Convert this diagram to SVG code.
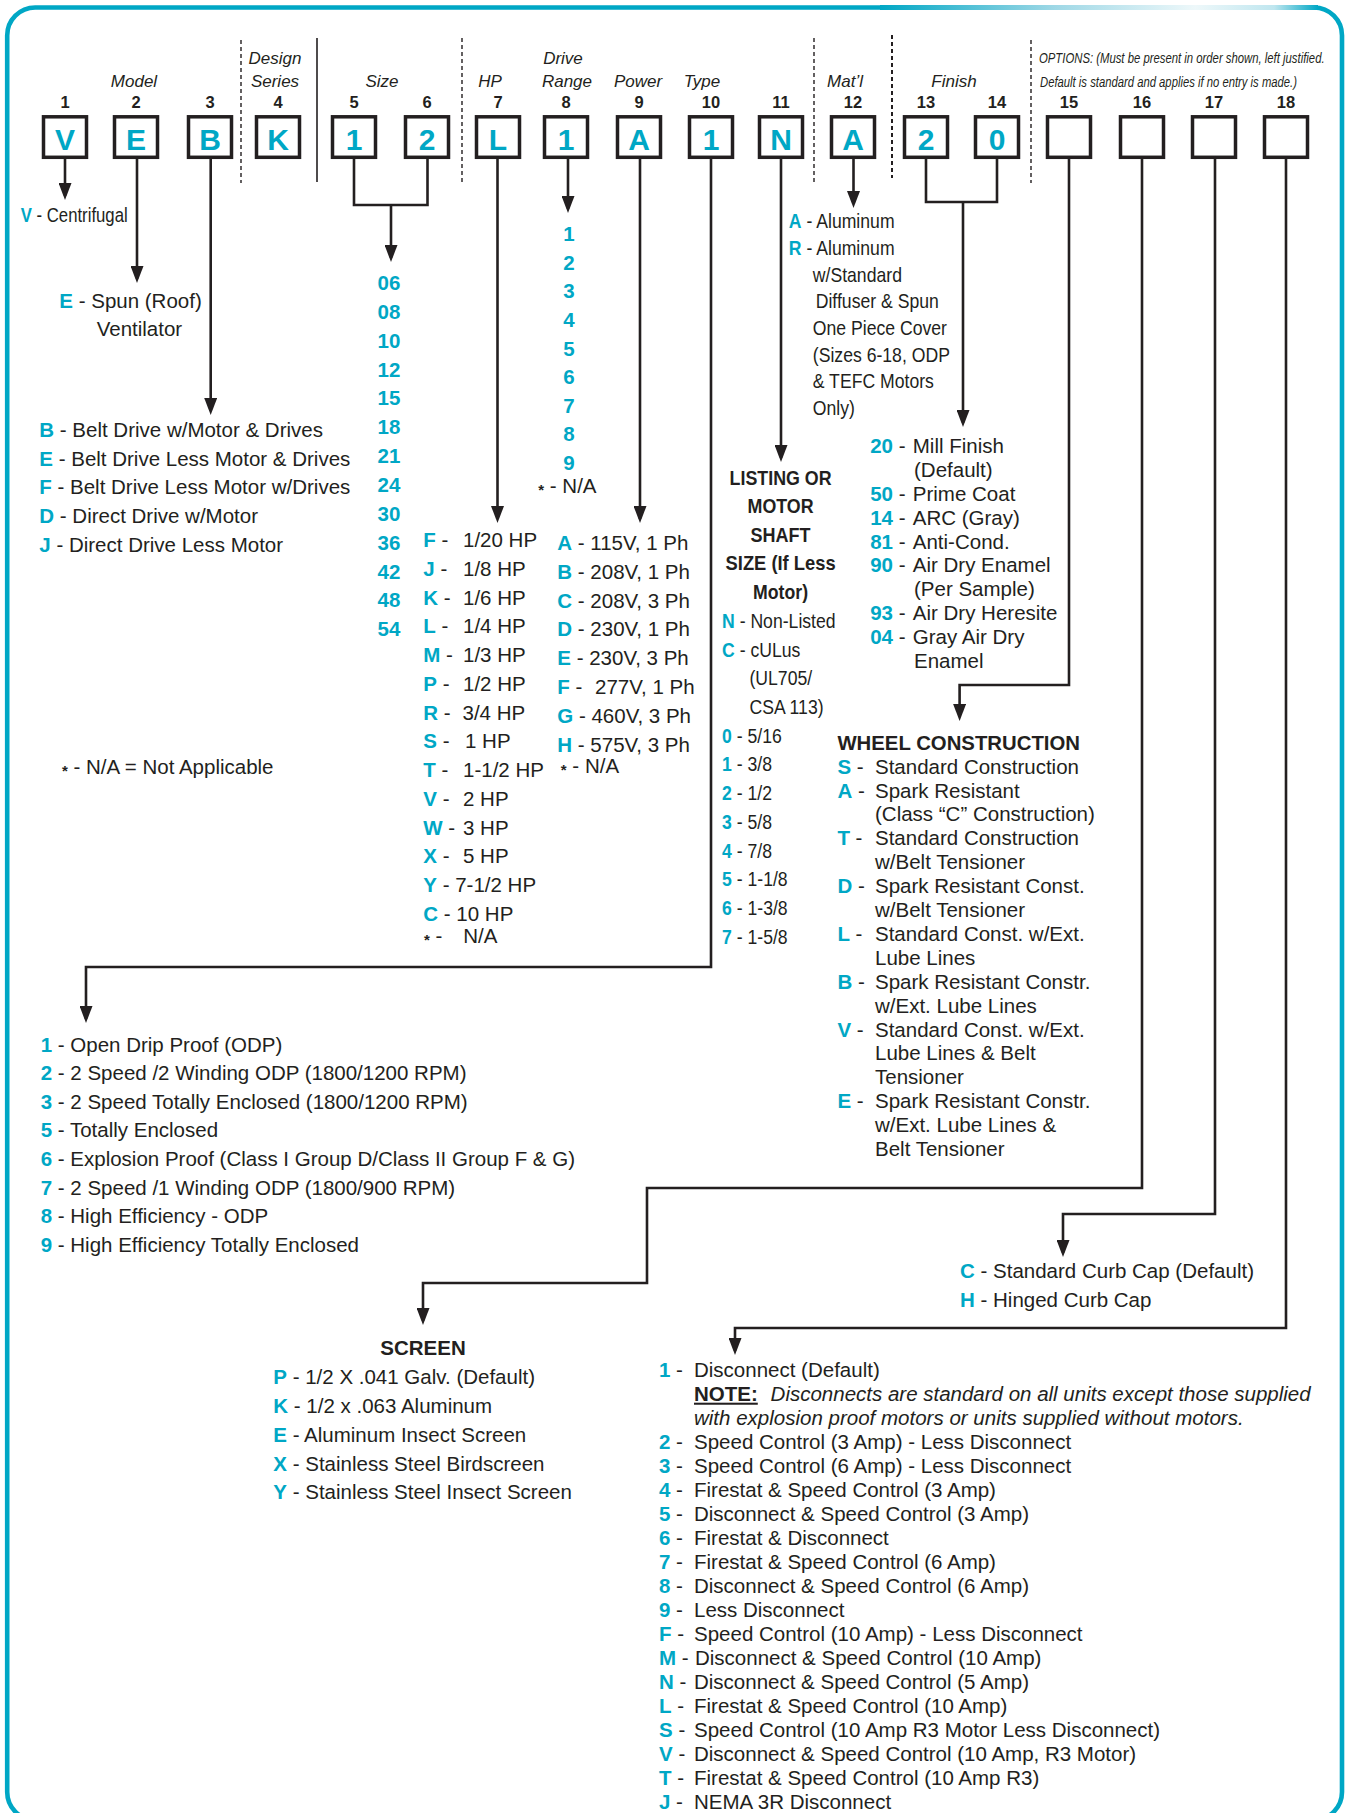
<svg xmlns="http://www.w3.org/2000/svg" width="1347" height="1813" viewBox="0 0 1347 1813">
<style>
.t{font-family:"Liberation Sans",Arial,sans-serif;font-size:20.5px;fill:#231f20}
.c{fill:#00a7c5;font-weight:bold}
.it{font-style:italic}
.bd{font-weight:bold}
.h{font-family:"Liberation Sans",Arial,sans-serif;font-style:italic;font-size:17px;fill:#231f20;text-anchor:middle}
.o{font-family:"Liberation Sans",Arial,sans-serif;font-style:italic;font-size:15px;fill:#231f20}
.n{font-family:"Liberation Sans",Arial,sans-serif;font-weight:bold;font-size:16.5px;fill:#231f20;text-anchor:middle}
.bx{fill:#fff;stroke:#231f20;stroke-width:3.5}
.bl{font-family:"Liberation Sans",Arial,sans-serif;font-weight:bold;font-size:30px;fill:#00a7c5;text-anchor:middle}
.cn{font-family:"Liberation Sans",Arial,sans-serif;font-weight:bold;font-size:20.5px;fill:#00a7c5;text-anchor:middle}
.ln{fill:none;stroke:#231f20;stroke-width:2.6;marker-end:url(#ah)}
.lp{fill:none;stroke:#231f20;stroke-width:2.6}
.dv{stroke:#231f20;stroke-width:1.4;stroke-dasharray:4 3}
.ast{font-size:15px;font-weight:bold}
</style>
<defs>
<marker id="ah" markerUnits="userSpaceOnUse" markerWidth="17" markerHeight="13" refX="13" refY="6.5" orient="auto">
<path d="M0,0 L17,6.5 L0,13 z" fill="#231f20"/>
</marker>
<linearGradient id="tg" gradientUnits="userSpaceOnUse" x1="880" y1="0" x2="1318" y2="0">
<stop offset="0" stop-color="#00a7c5"/>
<stop offset="0.4" stop-color="#9fd8e6"/>
<stop offset="0.72" stop-color="#eef8fa"/>
<stop offset="0.9" stop-color="#bfe6ef"/>
<stop offset="1" stop-color="#00a7c5"/>
</linearGradient>
</defs>

<g id="frame">
<rect x="7.2" y="7.5" width="1334.8" height="1812.5" rx="28" fill="#fff" stroke="#00a7c5" stroke-width="4.6"/>
<path d="M880 7.5 H1318" stroke="url(#tg)" stroke-width="5"/>
</g>

<g id="header">
<text class="h" x="134" y="87">Model</text>
<text class="h" x="275" y="64">Design</text>
<text class="h" x="275" y="87">Series</text>
<text class="h" x="382" y="87">Size</text>
<text class="h" x="490" y="87">HP</text>
<text class="h" x="563" y="64">Drive</text>
<text class="h" x="567" y="87">Range</text>
<text class="h" x="638" y="87">Power</text>
<text class="h" x="702" y="87">Type</text>
<text class="h" x="845" y="87">Mat’l</text>
<text class="h" x="954" y="87">Finish</text>
<text class="o" transform="translate(1039 63) scale(0.755 1)">OPTIONS: (Must be present in order shown, left justified.</text>
<text class="o" transform="translate(1040 87) scale(0.752 1)">Default is standard and applies if no entry is made.)</text>
<line class="dv" x1="241" y1="40" x2="241" y2="183"/>
<line x1="317" y1="38" x2="317" y2="182" stroke="#231f20" stroke-width="1.6"/>
<line class="dv" x1="462" y1="38" x2="462" y2="183"/>
<line class="dv" x1="814" y1="38" x2="814" y2="182"/>
<line class="dv" x1="892" y1="35" x2="892" y2="178" style="stroke-width:2"/>
<line class="dv" x1="1031" y1="40" x2="1031" y2="183"/>
</g>

<g id="f1"><text class="n" x="65" y="108">1</text><rect class="bx" x="43.5" y="116.8" width="43" height="40.5"/><text class="bl" x="65" y="150">V</text></g>
<g id="f2"><text class="n" x="136" y="108">2</text><rect class="bx" x="114.5" y="116.8" width="43" height="40.5"/><text class="bl" x="136" y="150">E</text></g>
<g id="f3"><text class="n" x="210" y="108">3</text><rect class="bx" x="188.5" y="116.8" width="43" height="40.5"/><text class="bl" x="210" y="150">B</text></g>
<g id="f4"><text class="n" x="278" y="108">4</text><rect class="bx" x="256.5" y="116.8" width="43" height="40.5"/><text class="bl" x="278" y="150">K</text></g>
<g id="f5"><text class="n" x="354" y="108">5</text><rect class="bx" x="332.5" y="116.8" width="43" height="40.5"/><text class="bl" x="354" y="150">1</text></g>
<g id="f6"><text class="n" x="427" y="108">6</text><rect class="bx" x="405.5" y="116.8" width="43" height="40.5"/><text class="bl" x="427" y="150">2</text></g>
<g id="f7"><text class="n" x="498" y="108">7</text><rect class="bx" x="476.5" y="116.8" width="43" height="40.5"/><text class="bl" x="498" y="150">L</text></g>
<g id="f8"><text class="n" x="566" y="108">8</text><rect class="bx" x="544.5" y="116.8" width="43" height="40.5"/><text class="bl" x="566" y="150">1</text></g>
<g id="f9"><text class="n" x="639" y="108">9</text><rect class="bx" x="617.5" y="116.8" width="43" height="40.5"/><text class="bl" x="639" y="150">A</text></g>
<g id="f10"><text class="n" x="711" y="108">10</text><rect class="bx" x="689.5" y="116.8" width="43" height="40.5"/><text class="bl" x="711" y="150">1</text></g>
<g id="f11"><text class="n" x="781" y="108">11</text><rect class="bx" x="759.5" y="116.8" width="43" height="40.5"/><text class="bl" x="781" y="150">N</text></g>
<g id="f12"><text class="n" x="853" y="108">12</text><rect class="bx" x="831.5" y="116.8" width="43" height="40.5"/><text class="bl" x="853" y="150">A</text></g>
<g id="f13"><text class="n" x="926" y="108">13</text><rect class="bx" x="904.5" y="116.8" width="43" height="40.5"/><text class="bl" x="926" y="150">2</text></g>
<g id="f14"><text class="n" x="997" y="108">14</text><rect class="bx" x="975.5" y="116.8" width="43" height="40.5"/><text class="bl" x="997" y="150">0</text></g>
<g id="f15"><text class="n" x="1069" y="108">15</text><rect class="bx" x="1047.5" y="116.8" width="43" height="40.5"/></g>
<g id="f16"><text class="n" x="1142" y="108">16</text><rect class="bx" x="1120.5" y="116.8" width="43" height="40.5"/></g>
<g id="f17"><text class="n" x="1214" y="108">17</text><rect class="bx" x="1192.5" y="116.8" width="43" height="40.5"/></g>
<g id="f18"><text class="n" x="1286" y="108">18</text><rect class="bx" x="1264.5" y="116.8" width="43" height="40.5"/></g>

<g id="connectors">
<path class="ln" d="M65 159 V196"/>
<path class="ln" d="M137 159 V279"/>
<path class="ln" d="M210.7 159 V411"/>
<path class="lp" d="M354 159 V205 H427.5 V159"/>
<path class="ln" d="M391 205 V258"/>
<path class="ln" d="M497.5 159 V519"/>
<path class="ln" d="M568 159 V209"/>
<path class="ln" d="M640 159 V519"/>
<path class="ln" d="M711 159 V967 H86 V1019"/>
<path class="ln" d="M781 159 V458"/>
<path class="ln" d="M853.5 159 V204"/>
<path class="lp" d="M926 159 V202 H997 V159"/>
<path class="ln" d="M963 202 V423"/>
<path class="ln" d="M1069 159 V685 H959.6 V717"/>
<path class="ln" d="M1142 159 V1188 H647 V1283 H423 V1321"/>
<path class="ln" d="M1215 159 V1214 H1063 V1253"/>
<path class="ln" d="M1286 159 V1328 H735 V1351"/>
</g>

<g id="model">
<text class="t" x="20.7" y="221.7" textLength="107" lengthAdjust="spacingAndGlyphs"><tspan class="c">V</tspan> - Centrifugal</text>
<text class="t" x="59.3" y="307.7"><tspan class="c">E</tspan> - Spun (Roof)</text>
<text class="t" x="96.7" y="336">Ventilator</text>
</g>

<g id="drive-type">
<text class="t" x="39.3" y="436.7"><tspan class="c">B</tspan> - Belt Drive w/Motor &amp; Drives</text>
<text class="t" x="39.3" y="465.6"><tspan class="c">E</tspan> - Belt Drive Less Motor &amp; Drives</text>
<text class="t" x="39.3" y="494.4"><tspan class="c">F</tspan> - Belt Drive Less Motor w/Drives</text>
<text class="t" x="39.3" y="523.3"><tspan class="c">D</tspan> - Direct Drive w/Motor</text>
<text class="t" x="39.3" y="552.2"><tspan class="c">J</tspan> - Direct Drive Less Motor</text>
</g>

<g id="na-note">
<text class="t" x="62" y="774"><tspan class="ast" dy="2">*</tspan><tspan dy="-2"> - N/A = Not Applicable</tspan></text>
</g>

<g id="size">
<text class="cn" x="389" y="290">06</text>
<text class="cn" x="389" y="318.9">08</text>
<text class="cn" x="389" y="347.7">10</text>
<text class="cn" x="389" y="376.6">12</text>
<text class="cn" x="389" y="405.4">15</text>
<text class="cn" x="389" y="434.3">18</text>
<text class="cn" x="389" y="463.1">21</text>
<text class="cn" x="389" y="492">24</text>
<text class="cn" x="389" y="520.8">30</text>
<text class="cn" x="389" y="549.7">36</text>
<text class="cn" x="389" y="578.5">42</text>
<text class="cn" x="389" y="607.4">48</text>
<text class="cn" x="389" y="636.2">54</text>
</g>

<g id="drive-range">
<text class="cn" x="569" y="241">1</text>
<text class="cn" x="569" y="269.6">2</text>
<text class="cn" x="569" y="298.2">3</text>
<text class="cn" x="569" y="326.9">4</text>
<text class="cn" x="569" y="355.5">5</text>
<text class="cn" x="569" y="384.1">6</text>
<text class="cn" x="569" y="412.7">7</text>
<text class="cn" x="569" y="441.3">8</text>
<text class="cn" x="569" y="470">9</text>
<text class="t" x="538.3" y="492.7"><tspan class="ast" dy="2">*</tspan><tspan dy="-2"> - N/A</tspan></text>
</g>

<g id="hp">
<text class="t" x="423.3" y="547"><tspan class="c">F</tspan> - <tspan x="463">1/20 HP</tspan></text>
<text class="t" x="423.3" y="575.8"><tspan class="c">J</tspan> - <tspan x="463">1/8 HP</tspan></text>
<text class="t" x="423.3" y="604.5"><tspan class="c">K</tspan> - <tspan x="463">1/6 HP</tspan></text>
<text class="t" x="423.3" y="633.3"><tspan class="c">L</tspan> - <tspan x="463">1/4 HP</tspan></text>
<text class="t" x="423.3" y="662"><tspan class="c">M</tspan> - <tspan x="463">1/3 HP</tspan></text>
<text class="t" x="423.3" y="690.8"><tspan class="c">P</tspan> - <tspan x="463">1/2 HP</tspan></text>
<text class="t" x="423.3" y="719.5"><tspan class="c">R</tspan> - <tspan x="462.5">3/4 HP</tspan></text>
<text class="t" x="423.3" y="748.3"><tspan class="c">S</tspan> - <tspan x="465">1 HP</tspan></text>
<text class="t" x="423.3" y="777"><tspan class="c">T</tspan> - <tspan x="463">1-1/2 HP</tspan></text>
<text class="t" x="423.3" y="805.8"><tspan class="c">V</tspan> - <tspan x="463">2 HP</tspan></text>
<text class="t" x="423.3" y="834.5"><tspan class="c">W</tspan> - <tspan x="463">3 HP</tspan></text>
<text class="t" x="423.3" y="863.3"><tspan class="c">X</tspan> - <tspan x="463">5 HP</tspan></text>
<text class="t" x="423.3" y="892"><tspan class="c">Y</tspan> - 7-1/2 HP</text>
<text class="t" x="423.3" y="920.8"><tspan class="c">C</tspan> - 10 HP</text>
<text class="t" x="424" y="943"><tspan class="ast" dy="2">*</tspan><tspan dy="-2"> - </tspan><tspan x="463.3">N/A</tspan></text>
</g>

<g id="power">
<text class="t" x="557.3" y="550"><tspan class="c">A</tspan> - 115V, 1 Ph</text>
<text class="t" x="557.3" y="578.8"><tspan class="c">B</tspan> - 208V, 1 Ph</text>
<text class="t" x="557.3" y="607.6"><tspan class="c">C</tspan> - 208V, 3 Ph</text>
<text class="t" x="557.3" y="636.4"><tspan class="c">D</tspan> - 230V, 1 Ph</text>
<text class="t" x="557.3" y="665.2"><tspan class="c">E</tspan> - 230V, 3 Ph</text>
<text class="t" x="557.3" y="694"><tspan class="c">F</tspan> - <tspan x="595">277V, 1 Ph</tspan></text>
<text class="t" x="557.3" y="722.8"><tspan class="c">G</tspan> - 460V, 3 Ph</text>
<text class="t" x="557.3" y="751.6"><tspan class="c">H</tspan> - 575V, 3 Ph</text>
<text class="t" x="560.7" y="773.3"><tspan class="ast" dy="2">*</tspan><tspan dy="-2"> - </tspan><tspan x="585">N/A</tspan></text>
</g>

<g id="motor-type">
<text class="t" x="40.7" y="1051.7"><tspan class="c">1</tspan> - Open Drip Proof (ODP)</text>
<text class="t" x="40.7" y="1080.3"><tspan class="c">2</tspan> - 2 Speed /2 Winding ODP (1800/1200 RPM)</text>
<text class="t" x="40.7" y="1108.8"><tspan class="c">3</tspan> - 2 Speed Totally Enclosed (1800/1200 RPM)</text>
<text class="t" x="40.7" y="1137.4"><tspan class="c">5</tspan> - Totally Enclosed</text>
<text class="t" x="40.7" y="1166"><tspan class="c">6</tspan> - Explosion Proof (Class I Group D/Class II Group F &amp; G)</text>
<text class="t" x="40.7" y="1194.6"><tspan class="c">7</tspan> - 2 Speed /1 Winding ODP (1800/900 RPM)</text>
<text class="t" x="40.7" y="1223.1"><tspan class="c">8</tspan> - High Efficiency - ODP</text>
<text class="t" x="40.7" y="1251.7"><tspan class="c">9</tspan> - High Efficiency Totally Enclosed</text>
</g>

<g id="listing">
<text class="t bd" x="780.6" y="485" text-anchor="middle" textLength="102" lengthAdjust="spacingAndGlyphs">LISTING OR</text>
<text class="t bd" x="780.6" y="513.3" text-anchor="middle" textLength="66" lengthAdjust="spacingAndGlyphs">MOTOR</text>
<text class="t bd" x="780.6" y="541.7" text-anchor="middle" textLength="60" lengthAdjust="spacingAndGlyphs">SHAFT</text>
<text class="t bd" x="780.6" y="570" text-anchor="middle" textLength="110" lengthAdjust="spacingAndGlyphs">SIZE (If Less</text>
<text class="t bd" x="780.6" y="599.3" text-anchor="middle" textLength="55" lengthAdjust="spacingAndGlyphs">Motor)</text>
<g transform="translate(722 0) scale(0.86 1)">
<text class="t" x="0" y="628"><tspan class="c">N</tspan> - Non-Listed</text>
<text class="t" x="0" y="656.7"><tspan class="c">C</tspan> - cULus</text>
<text class="t" x="31.9" y="685.4">(UL705/</text>
<text class="t" x="31.9" y="714.1">CSA 113)</text>
<text class="t" x="0" y="742.8"><tspan class="c">0</tspan> - 5/16</text>
<text class="t" x="0" y="771.5"><tspan class="c">1</tspan> - 3/8</text>
<text class="t" x="0" y="800.2"><tspan class="c">2</tspan> - 1/2</text>
<text class="t" x="0" y="828.9"><tspan class="c">3</tspan> - 5/8</text>
<text class="t" x="0" y="857.6"><tspan class="c">4</tspan> - 7/8</text>
<text class="t" x="0" y="886.3"><tspan class="c">5</tspan> - 1-1/8</text>
<text class="t" x="0" y="915"><tspan class="c">6</tspan> - 1-3/8</text>
<text class="t" x="0" y="943.7"><tspan class="c">7</tspan> - 1-5/8</text>
</g>
</g>

<g id="material">
<g transform="translate(788.8 0) scale(0.86 1)">
<text class="t" x="0" y="228.3"><tspan class="c">A</tspan> - Aluminum</text>
<text class="t" x="0" y="255"><tspan class="c">R</tspan> - Aluminum</text>
<text class="t" x="27.9" y="281.7">w/Standard</text>
<text class="t" x="31.3" y="308.3">Diffuser &amp; Spun</text>
<text class="t" x="27.9" y="335">One Piece Cover</text>
<text class="t" x="27.9" y="361.7">(Sizes 6-18, ODP</text>
<text class="t" x="27.9" y="388.3">&amp; TEFC Motors</text>
<text class="t" x="27.9" y="415">Only)</text>
</g>
</g>

<g id="finish">
<text class="t" x="870.2" y="453.3"><tspan class="c">20</tspan> - <tspan x="912.8">Mill Finish</tspan></text>
<text class="t" x="914" y="477.1">(Default)</text>
<text class="t" x="870.2" y="500.9"><tspan class="c">50</tspan> - <tspan x="912.8">Prime Coat</tspan></text>
<text class="t" x="870.2" y="524.7"><tspan class="c">14</tspan> - <tspan x="912.8">ARC (Gray)</tspan></text>
<text class="t" x="870.2" y="548.5"><tspan class="c">81</tspan> - <tspan x="912.8">Anti-Cond.</tspan></text>
<text class="t" x="870.2" y="572.3"><tspan class="c">90</tspan> - <tspan x="912.8">Air Dry Enamel</tspan></text>
<text class="t" x="914" y="596.1">(Per Sample)</text>
<text class="t" x="870.2" y="619.9"><tspan class="c">93</tspan> - <tspan x="912.8">Air Dry Heresite</tspan></text>
<text class="t" x="870.2" y="643.7"><tspan class="c">04</tspan> - <tspan x="912.8">Gray Air Dry</tspan></text>
<text class="t" x="914" y="667.5">Enamel</text>
</g>

<g id="wheel">
<text class="t bd" x="837.4" y="750.4" textLength="242.6" lengthAdjust="spacingAndGlyphs">WHEEL CONSTRUCTION</text>
<text class="t" x="837.4" y="773.6"><tspan class="c">S</tspan> - <tspan x="875">Standard Construction</tspan></text>
<text class="t" x="837.4" y="797.5"><tspan class="c">A</tspan> - <tspan x="875">Spark Resistant</tspan></text>
<text class="t" x="875" y="821.4">(Class “C” Construction)</text>
<text class="t" x="837.4" y="845.3"><tspan class="c">T</tspan> - <tspan x="875">Standard Construction</tspan></text>
<text class="t" x="875" y="869.2">w/Belt Tensioner</text>
<text class="t" x="837.4" y="893.1"><tspan class="c">D</tspan> - <tspan x="875">Spark Resistant Const.</tspan></text>
<text class="t" x="875" y="917">w/Belt Tensioner</text>
<text class="t" x="837.4" y="940.9"><tspan class="c">L</tspan> - <tspan x="875">Standard Const. w/Ext.</tspan></text>
<text class="t" x="875" y="964.8">Lube Lines</text>
<text class="t" x="837.4" y="988.7"><tspan class="c">B</tspan> - <tspan x="875">Spark Resistant Constr.</tspan></text>
<text class="t" x="875" y="1012.6">w/Ext. Lube Lines</text>
<text class="t" x="837.4" y="1036.5"><tspan class="c">V</tspan> - <tspan x="875">Standard Const. w/Ext.</tspan></text>
<text class="t" x="875" y="1060.4">Lube Lines &amp; Belt</text>
<text class="t" x="875" y="1084.3">Tensioner</text>
<text class="t" x="837.4" y="1108.2"><tspan class="c">E</tspan> - <tspan x="875">Spark Resistant Constr.</tspan></text>
<text class="t" x="875" y="1132.1">w/Ext. Lube Lines &amp;</text>
<text class="t" x="875" y="1156">Belt Tensioner</text>
</g>

<g id="screen">
<text class="t bd" x="423" y="1355" text-anchor="middle">SCREEN</text>
<text class="t" x="273.3" y="1384"><tspan class="c">P</tspan> - 1/2 X .041 Galv. (Default)</text>
<text class="t" x="273.3" y="1412.9"><tspan class="c">K</tspan> - 1/2 x .063 Aluminum</text>
<text class="t" x="273.3" y="1441.7"><tspan class="c">E</tspan> - Aluminum Insect Screen</text>
<text class="t" x="273.3" y="1470.6"><tspan class="c">X</tspan> - Stainless Steel Birdscreen</text>
<text class="t" x="273.3" y="1499.4"><tspan class="c">Y</tspan> - Stainless Steel Insect Screen</text>
</g>

<g id="curb-cap">
<text class="t" x="960" y="1278.3"><tspan class="c">C</tspan> - Standard Curb Cap (Default)</text>
<text class="t" x="960" y="1307.3"><tspan class="c">H</tspan> - Hinged Curb Cap</text>
</g>

<g id="controls">
<text class="t" x="659" y="1376.7"><tspan class="c">1</tspan> - <tspan x="694">Disconnect (Default)</tspan></text>
<text class="t" x="694" y="1400.7"><tspan class="bd" text-decoration="underline">NOTE:</tspan></text>
<text class="t it" x="770.6" y="1400.7" textLength="540" lengthAdjust="spacingAndGlyphs">Disconnects are standard on all units except those supplied</text>
<text class="t it" x="694" y="1424.7" textLength="549.6" lengthAdjust="spacingAndGlyphs">with explosion proof motors or units supplied without motors.</text>
<text class="t" x="659" y="1448.7"><tspan class="c">2</tspan> - <tspan x="694">Speed Control (3 Amp) - Less Disconnect</tspan></text>
<text class="t" x="659" y="1472.7"><tspan class="c">3</tspan> - <tspan x="694">Speed Control (6 Amp) - Less Disconnect</tspan></text>
<text class="t" x="659" y="1496.7"><tspan class="c">4</tspan> - <tspan x="694">Firestat &amp; Speed Control (3 Amp)</tspan></text>
<text class="t" x="659" y="1520.7"><tspan class="c">5</tspan> - <tspan x="694">Disconnect &amp; Speed Control (3 Amp)</tspan></text>
<text class="t" x="659" y="1544.7"><tspan class="c">6</tspan> - <tspan x="694">Firestat &amp; Disconnect</tspan></text>
<text class="t" x="659" y="1568.7"><tspan class="c">7</tspan> - <tspan x="694">Firestat &amp; Speed Control (6 Amp)</tspan></text>
<text class="t" x="659" y="1592.7"><tspan class="c">8</tspan> - <tspan x="694">Disconnect &amp; Speed Control (6 Amp)</tspan></text>
<text class="t" x="659" y="1616.7"><tspan class="c">9</tspan> - <tspan x="694">Less Disconnect</tspan></text>
<text class="t" x="659" y="1640.7"><tspan class="c">F</tspan> - <tspan x="694">Speed Control (10 Amp) - Less Disconnect</tspan></text>
<text class="t" x="659" y="1664.7"><tspan class="c">M</tspan> - <tspan x="695">Disconnect &amp; Speed Control (10 Amp)</tspan></text>
<text class="t" x="659" y="1688.7"><tspan class="c">N</tspan> - <tspan x="694">Disconnect &amp; Speed Control (5 Amp)</tspan></text>
<text class="t" x="659" y="1712.7"><tspan class="c">L</tspan> - <tspan x="694">Firestat &amp; Speed Control (10 Amp)</tspan></text>
<text class="t" x="659" y="1736.7"><tspan class="c">S</tspan> - <tspan x="694">Speed Control (10 Amp R3 Motor Less Disconnect)</tspan></text>
<text class="t" x="659" y="1760.7"><tspan class="c">V</tspan> - <tspan x="694">Disconnect &amp; Speed Control (10 Amp, R3 Motor)</tspan></text>
<text class="t" x="659" y="1784.7"><tspan class="c">T</tspan> - <tspan x="694">Firestat &amp; Speed Control (10 Amp R3)</tspan></text>
<text class="t" x="659" y="1808.7"><tspan class="c">J</tspan> - <tspan x="694">NEMA 3R Disconnect</tspan></text>
</g>
</svg>
